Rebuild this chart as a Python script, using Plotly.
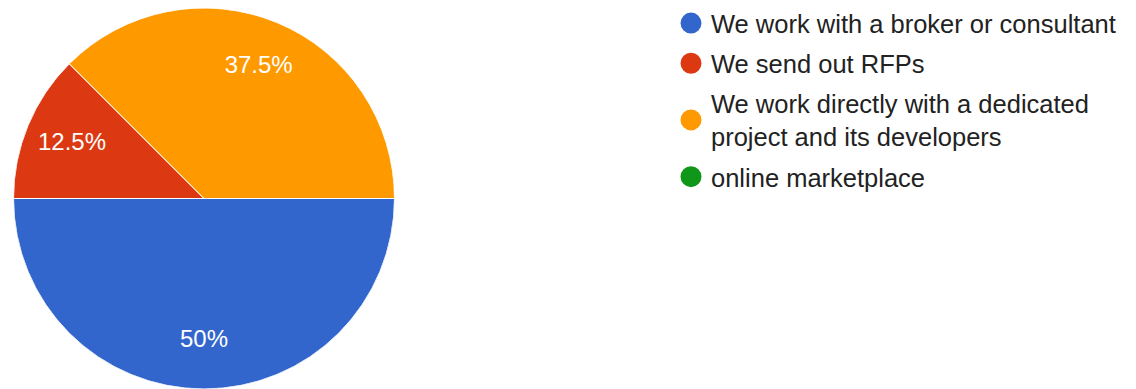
import plotly.graph_objects as go

labels = [
    "We work with a broker or consultant",
    "We send out RFPs",
    "We work directly with a dedicated project and its developers",
    "online marketplace",
]
legend_labels = [
    "We work with a broker or consultant",
    "We send out RFPs",
    "We work directly with a dedicated<br>project and its developers",
    "online marketplace",
]
values = [4, 1, 3, 0]
colors = ["#3366cc", "#dc3912", "#ff9900", "#109618"]

W, H = 1136, 389
total = sum(values)

# slice angles derived from the values (polar axis: 0 deg = 3 o'clock, clockwise)
widths, mids, cum = [], [], 0
for v in values:
    w = 360.0 * v / total
    widths.append(w)
    mids.append(cum + w / 2)
    cum += w

fig = go.Figure()
fig.add_trace(go.Barpolar(
    r=[1] * len(values), theta=mids, width=widths,
    marker=dict(color=colors, line=dict(color="white", width=1)),
    customdata=labels, hovertemplate="%{customdata}<extra></extra>",
    showlegend=False,
))
shown = [i for i, v in enumerate(values) if v > 0]
fig.add_trace(go.Scatterpolar(
    r=[0.75] * len(shown), theta=[mids[i] for i in shown],
    mode="text", text=[f"{100 * values[i] / total:g}%" for i in shown],
    textposition="middle center",
    textfont=dict(family="Liberation Sans, Arial", size=24, color="white"),
    hoverinfo="skip", showlegend=False,
))
for i, (lab, col) in enumerate(zip(legend_labels, colors)):
    fig.add_trace(go.Scatterpolar(
        r=[None], theta=[None], mode="markers", name=lab, legendgroup=f"g{i}",
        marker=dict(color=col, size=16, line=dict(color=col, width=5)),
        showlegend=True, hoverinfo="skip",
    ))

fig.update_layout(
    width=W, height=H,
    margin=dict(l=0, r=0, t=0, b=0),
    paper_bgcolor="white",
    polar=dict(
        domain=dict(x=[13.5 / W, 394.5 / W], y=[0, 381 / H]),
        bgcolor="rgba(0,0,0,0)", hole=0,
        radialaxis=dict(range=[0, 1], visible=False),
        angularaxis=dict(rotation=0, direction="clockwise", visible=False),
        bargap=0,
    ),
    legend=dict(
        x=671 / W, y=1.0, xanchor="left", yanchor="top",
        font=dict(family="Liberation Sans, Arial", size=25.5, color="#222222"),
        tracegroupgap=4, itemwidth=30, bgcolor="rgba(0,0,0,0)",
        maxheight=1,
    ),
    showlegend=True,
)
fig.write_html("out.html")
